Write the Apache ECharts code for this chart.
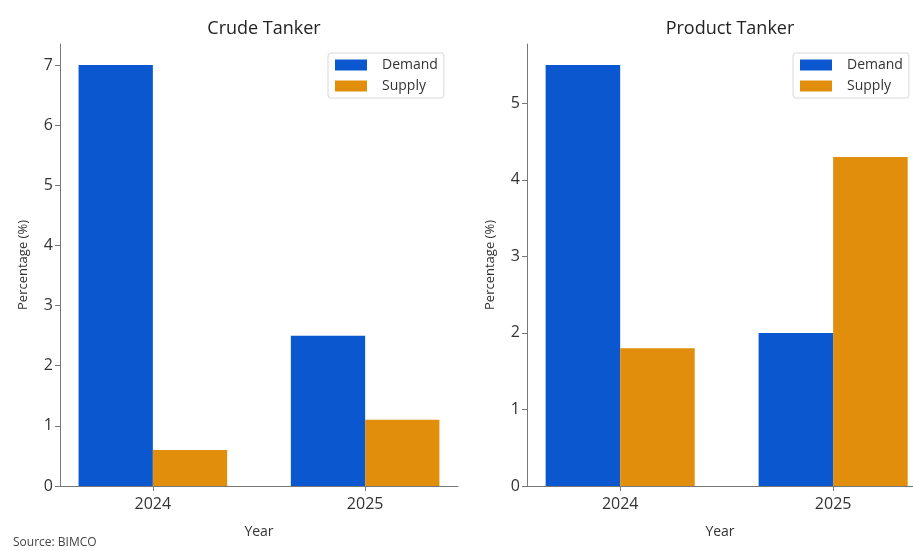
<!DOCTYPE html>
<html>
<head>
<meta charset="utf-8">
<script src="https://cdn.jsdelivr.net/npm/echarts@6/dist/echarts.min.js"></script>
<style>
  html, body { margin: 0; padding: 0; background: #fff; }
  #chart { width: 913px; height: 551px; }
</style>
</head>
<body>
<div id="chart"></div>
<script>
// data
const years = ['2024', '2025']
const crudeDemand = [7.0, 2.5]
const crudeSupply = [0.6, 1.1]
const productDemand = [5.5, 2.0]
const productSupply = [1.8, 4.3]

const BLUE = '#0b57cf'
const ORANGE = '#e08e0b'
const FONT = 'Open Sans'
const BAR_W = 0.35

const chart = echarts.init(document.getElementById('chart'))

// bars on a value x axis so the spacing follows the original (matplotlib) layout
function barSeries(name, values, side, axisIdx, color) {
  return {
    name,
    type: 'custom',
    xAxisIndex: axisIdx,
    yAxisIndex: axisIdx,
    itemStyle: { color },
    data: values.map((v, i) => [i, v]),
    renderItem: (params, api) => {
      const x = api.value(0)
      const x0 = side < 0 ? x - BAR_W : x
      const p1 = api.coord([x0, api.value(1)])
      const p2 = api.coord([x0 + BAR_W, 0])
      return {
        type: 'rect',
        shape: { x: p1[0], y: p1[1], width: p2[0] - p1[0], height: p2[1] - p1[1] },
        style: { fill: color },
      }
    },
  }
}

function xAxisCfg(gridIdx, max) {
  return {
    type: 'value',
    gridIndex: gridIdx,
    min: -0.4375,
    max,
    name: 'Year',
    nameLocation: 'middle',
    nameGap: 39,
    nameTextStyle: { color: '#333', fontSize: 14, fontFamily: FONT },
    axisLine: { show: true, onZero: false, lineStyle: { color: '#777', width: 1 } },
    axisTick: { show: true, customValues: [0, 1], length: 5, lineStyle: { color: '#777' } },
    axisLabel: {
      customValues: [0, 1],
      formatter: (v) => years[Math.round(v)],
      color: '#333', fontSize: 16, fontFamily: FONT, margin: 10,
    },
    splitLine: { show: false },
  }
}

function yAxisCfg(gridIdx, max, ticks) {
  return {
    type: 'value',
    gridIndex: gridIdx,
    min: 0,
    max,
    name: 'Percentage (%)',
    nameLocation: 'middle',
    nameRotate: 90,
    nameGap: 30,
    nameTextStyle: { color: '#333', fontSize: 13, fontFamily: FONT },
    axisLine: { show: true, onZero: false, lineStyle: { color: '#777', width: 1 } },
    axisTick: { show: true, customValues: ticks, length: 5, lineStyle: { color: '#777' } },
    axisLabel: { customValues: ticks, color: '#333', fontSize: 16, fontFamily: FONT, margin: 7 },
    splitLine: { show: false },
  }
}

function legendCfg(left) {
  return {
    data: ['Demand', 'Supply'],
    orient: 'vertical',
    left,
    top: 53,
    icon: 'rect',
    itemWidth: 32,
    itemHeight: 11,
    itemGap: 7,
    padding: [5, 6, 5, 7],
    borderColor: '#d8d8d8',
    borderWidth: 1,
    borderRadius: 3,
    textStyle: { color: '#333', fontSize: 14, fontFamily: FONT, padding: [0, 0, 0, 10] },
  }
}

chart.setOption({
  backgroundColor: '#fff',
  animation: false,
  title: [
    { text: 'Crude Tanker', left: 259, textAlign: 'center', top: 15,
      textStyle: { fontSize: 18, fontWeight: 'normal', color: '#222', fontFamily: FONT } },
    { text: 'Product Tanker', left: 725, textAlign: 'center', top: 15,
      textStyle: { fontSize: 18, fontWeight: 'normal', color: '#222', fontFamily: FONT } },
    { text: 'Source: BIMCO', left: 8, top: 532,
      textStyle: { fontSize: 12, fontWeight: 'normal', color: '#444', fontFamily: FONT } },
  ],
  legend: [legendCfg(328), legendCfg(793)],
  grid: [
    { left: 60, top: 44, width: 398, height: 442 },
    { left: 527, top: 44, width: 386, height: 442 },
  ],
  // right panel is cut off by the picture edge, so its x range ends early
  xAxis: [xAxisCfg(0, 1.4375), xAxisCfg(1, 1.375)],
  yAxis: [
    yAxisCfg(0, 7.35, [0, 1, 2, 3, 4, 5, 6, 7]),
    yAxisCfg(1, 5.775, [0, 1, 2, 3, 4, 5]),
  ],
  series: [
    barSeries('Demand', crudeDemand, -1, 0, BLUE),
    barSeries('Supply', crudeSupply, 1, 0, ORANGE),
    barSeries('Demand', productDemand, -1, 1, BLUE),
    barSeries('Supply', productSupply, 1, 1, ORANGE),
  ],
})
</script>
</body>
</html>
